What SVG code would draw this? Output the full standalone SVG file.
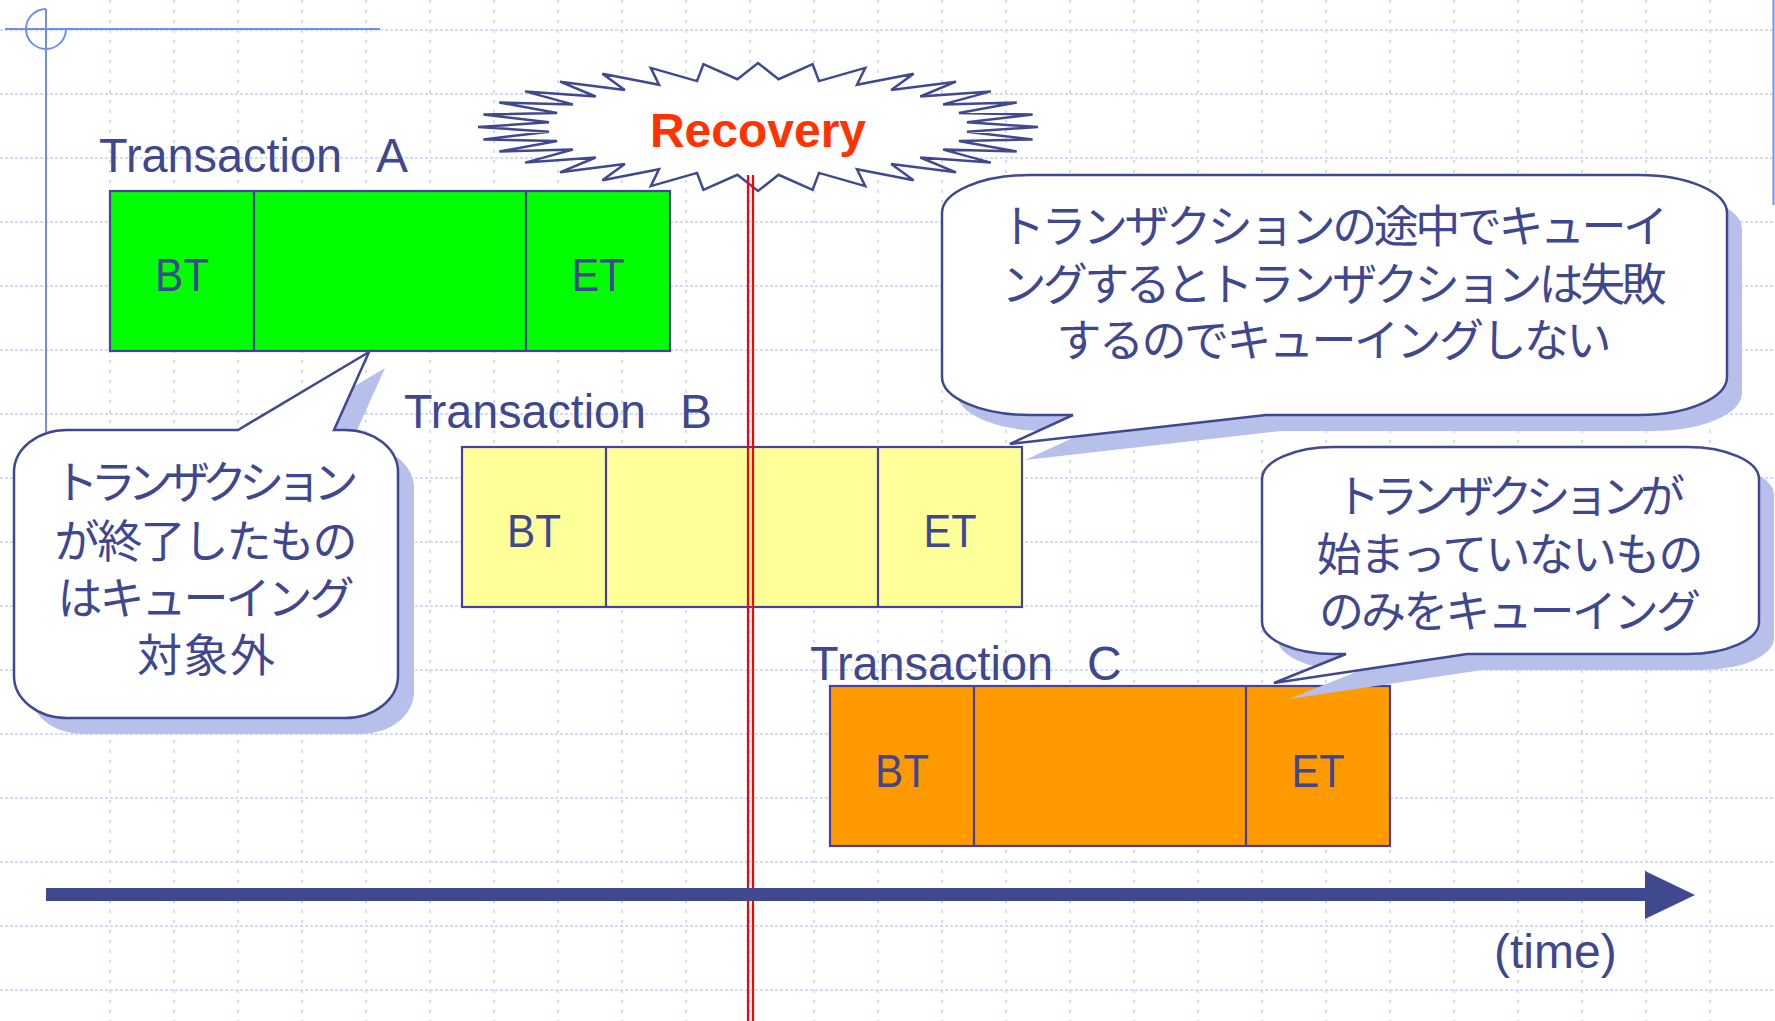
<svg xmlns="http://www.w3.org/2000/svg" width="1775" height="1021" viewBox="0 0 1775 1021">
  <style>
    .grid-h { fill: none; stroke: #d3dcf7; stroke-width: 2; stroke-dasharray: 3 2; }
    .grid-v { fill: none; stroke: #d3dcf7; stroke-width: 2; stroke-dasharray: 3 7; }
    .deco { fill: none; stroke: #6f8ef0; stroke-width: 2; }
    .box { stroke: #4a3f9c; stroke-width: 2.2; }
    .lbl { font-family: "Liberation Sans", Arial, sans-serif; font-size: 48px; fill: #3f478f; }
    .cell { font-family: "Liberation Sans", Arial, sans-serif; font-size: 47px; fill: #3f478f; text-anchor: middle; }
    .burst { fill: #ffffff; stroke: #404890; stroke-width: 2.5; stroke-linejoin: miter; }
    .burst-text { font-family: "Liberation Sans", Arial, sans-serif; font-size: 48px; font-weight: bold; fill: #ff3300; text-anchor: middle; }
    .bubble { fill: #ffffff; stroke: #404890; stroke-width: 2.5; stroke-linejoin: miter; }
    .bubble-shadow { fill: #b7bfeb; }
    .jp { font-family: "Noto Sans CJK JP", "Noto Sans CJK SC", sans-serif; font-size: 45px; fill: #3f478f; text-anchor: middle; }
    .axis { fill: #404890; }
    .recovery-line { stroke: #ff0000; stroke-width: 2.2; }
  </style>

  <!-- background and dotted grid -->
  <rect x="0" y="0" width="1775" height="1021" fill="#ffffff"/>
  <g id="grid">
    <path class="grid-h" d="M0,30H1775M0,94H1775M0,158H1775M0,222H1775M0,286H1775M0,350H1775M0,414H1775M0,478H1775M0,542H1775M0,606H1775M0,670H1775M0,734H1775M0,798H1775M0,862H1775M0,926H1775M0,990H1775"/>
    <path class="grid-v" d="M110,0V1021M174,0V1021M238,0V1021M302,0V1021M366,0V1021M430,0V1021M494,0V1021M558,0V1021M622,0V1021M686,0V1021M750,0V1021M814,0V1021M878,0V1021M942,0V1021M1006,0V1021M1070,0V1021M1134,0V1021M1198,0V1021M1262,0V1021M1326,0V1021M1390,0V1021M1454,0V1021M1518,0V1021M1582,0V1021M1646,0V1021M1710,0V1021"/>
  </g>

  <!-- corner ornament of the slide frame -->
  <g id="frame">
    <path class="deco" d="M5,29H380"/>
    <path class="deco" d="M46,9V500"/>
    <path class="deco" d="M46,9A20,20 0 1 0 66,29"/>
    <path class="deco" d="M1773.5,0V205"/>
  </g>

  <!-- transaction A -->
  <g id="tx-a">
    <text class="lbl" y="172"><tspan x="99" textLength="243" lengthAdjust="spacingAndGlyphs">Transaction</tspan><tspan x="376">A</tspan></text>
    <rect class="box" x="110" y="191" width="560" height="160" fill="#00ff00"/>
    <path class="box" d="M254,191V351M526,191V351" fill="none"/>
    <text class="cell" x="182" y="291" textLength="54" lengthAdjust="spacingAndGlyphs">BT</text>
    <text class="cell" x="598" y="291" textLength="53" lengthAdjust="spacingAndGlyphs">ET</text>
  </g>

  <!-- transaction B -->
  <g id="tx-b">
    <text class="lbl" y="428"><tspan x="404" textLength="242" lengthAdjust="spacingAndGlyphs">Transaction</tspan><tspan x="680">B</tspan></text>
    <rect class="box" x="462" y="447" width="560" height="160" fill="#ffff99"/>
    <path class="box" d="M606,447V607M878,447V607" fill="none"/>
    <text class="cell" x="534" y="547" textLength="54" lengthAdjust="spacingAndGlyphs">BT</text>
    <text class="cell" x="950" y="547" textLength="53" lengthAdjust="spacingAndGlyphs">ET</text>
  </g>

  <!-- transaction C -->
  <g id="tx-c">
    <text class="lbl" y="680"><tspan x="810" textLength="243" lengthAdjust="spacingAndGlyphs">Transaction</tspan><tspan x="1087">C</tspan></text>
    <rect class="box" x="830" y="686" width="560" height="160" fill="#ff9900"/>
    <path class="box" d="M974,686V846M1246,686V846" fill="none"/>
    <text class="cell" x="902" y="787" textLength="54" lengthAdjust="spacingAndGlyphs">BT</text>
    <text class="cell" x="1318" y="787" textLength="53" lengthAdjust="spacingAndGlyphs">ET</text>
  </g>

  <!-- recovery burst (32-point star) -->
  <g id="recovery">
    <polygon class="burst" points="758,63 778.6,79.2 812.6,64.2 819,81.1 865.2,67.9 857,84.7 913.6,73.8 891.2,89.9 956,81.7 920.3,96.5 990.8,91.4 943.2,104.4 1016.7,102.5 958.9,113.1 1032.6,114.5 967,122.3 1038,127 967,131.7 1032.6,139.5 958.9,140.9 1016.7,151.5 943.2,149.6 990.8,162.6 920.3,157.5 956,172.3 891.2,164.1 913.6,180.2 857,169.3 865.2,186.1 819,172.9 812.6,189.8 778.6,174.8 758,191 737.4,174.8 703.4,189.8 697,172.9 650.8,186.1 659,169.3 602.4,180.2 624.8,164.1 560,172.3 595.7,157.5 525.2,162.6 572.8,149.6 499.3,151.5 557.1,140.9 483.4,139.5 549,131.7 478,127 549,122.3 483.4,114.5 557.1,113.1 499.3,102.5 572.8,104.4 525.2,91.4 595.7,96.5 560,81.7 624.8,89.9 602.4,73.8 659,84.7 650.8,67.9 697,81.1 703.4,64.2 737.4,79.2"/>
    <text class="burst-text" x="758" y="147">Recovery</text>
  </g>

  <!-- recovery instant marker and time axis -->
  <g id="connectors">
    <path class="recovery-line" d="M748,175V1021M753,175V1021"/>
    <rect class="axis" x="46" y="888" width="1601" height="13"/>
    <polygon class="axis" points="1645,871 1695,895 1645,919"/>
  </g>
  <text class="lbl" x="1494" y="968">(time)</text>

  <!-- callout for transaction A -->
  <g id="note-a">
    <path class="bubble-shadow" transform="translate(16,16)" d="M67,430L238,430L369,352L334,430L345,430A53,42 0 0 1 398,472L398,676A53,42 0 0 1 345,718L67,718A53,42 0 0 1 14,676L14,472A53,42 0 0 1 67,430Z"/>
    <path class="bubble" d="M67,430L238,430L369,352L334,430L345,430A53,42 0 0 1 398,472L398,676A53,42 0 0 1 345,718L67,718A53,42 0 0 1 14,676L14,472A53,42 0 0 1 67,430Z"/>
    <text class="jp"><tspan x="206" y="499" textLength="305" lengthAdjust="spacing">トランザクション</tspan><tspan x="206" y="558" textLength="303" lengthAdjust="spacing">が終了したもの</tspan><tspan x="206" y="615" textLength="297" lengthAdjust="spacing">はキューイング</tspan><tspan x="206" y="672" textLength="138" lengthAdjust="spacing">対象外</tspan></text>
  </g>

  <!-- callout for transaction B -->
  <g id="note-b">
    <path class="bubble-shadow" transform="translate(15,16)" d="M1030,175L1639,175A88,38 0 0 1 1727,213L1727,377A88,38 0 0 1 1639,415L1266,415L1010,444L1073,415L1030,415A88,38 0 0 1 942,377L942,213A88,38 0 0 1 1030,175Z"/>
    <path class="bubble" d="M1030,175L1639,175A88,38 0 0 1 1727,213L1727,377A88,38 0 0 1 1639,415L1266,415L1010,444L1073,415L1030,415A88,38 0 0 1 942,377L942,213A88,38 0 0 1 1030,175Z"/>
    <text class="jp"><tspan x="1334" y="243" textLength="668" lengthAdjust="spacing">トランザクションの途中でキューイ</tspan><tspan x="1334" y="301" textLength="665" lengthAdjust="spacing">ングするとトランザクションは失敗</tspan><tspan x="1334" y="357" textLength="555" lengthAdjust="spacing">するのでキューイングしない</tspan></text>
  </g>

  <!-- callout for transaction C -->
  <g id="note-c">
    <path class="bubble-shadow" transform="translate(15,16)" d="M1334,447L1687,447A72,32 0 0 1 1759,479L1759,622A72,32 0 0 1 1687,654L1467,654L1274,683L1346,654L1334,654A72,32 0 0 1 1262,622L1262,479A72,32 0 0 1 1334,447Z"/>
    <path class="bubble" d="M1334,447L1687,447A72,32 0 0 1 1759,479L1759,622A72,32 0 0 1 1687,654L1467,654L1274,683L1346,654L1334,654A72,32 0 0 1 1262,622L1262,479A72,32 0 0 1 1334,447Z"/>
    <text class="jp"><tspan x="1510" y="513" textLength="350" lengthAdjust="spacing">トランザクションが</tspan><tspan x="1510" y="571" textLength="387" lengthAdjust="spacing">始まっていないもの</tspan><tspan x="1510" y="628" textLength="382" lengthAdjust="spacing">のみをキューイング</tspan></text>
  </g>
</svg>
